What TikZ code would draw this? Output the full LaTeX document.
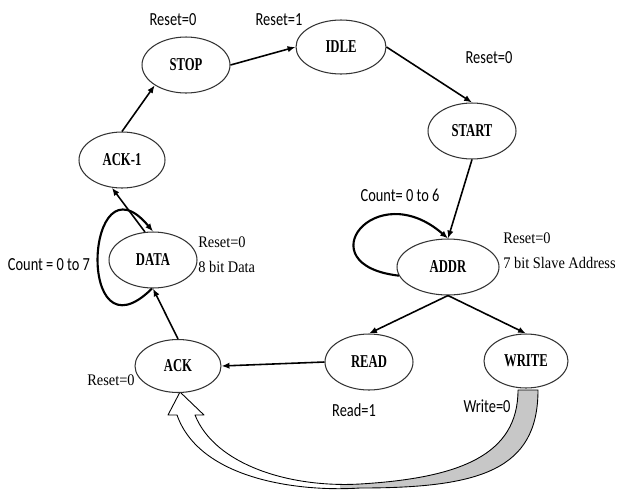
\documentclass[tikz,border=0pt]{standalone}
\usepackage{fontspec}
\usepackage{pgf,tikz}
\usetikzlibrary{shapes.geometric,arrows.meta}

\newfontfamily\statefont[FakeStretch=0.70]{Liberation Serif}
\newfontfamily\notefont[FakeStretch=0.89]{Liberation Serif}
\newfontfamily\condfont[FakeStretch=0.78]{Carlito}

\begin{document}
\begin{tikzpicture}
  [x=0.02cm,y=-0.02cm,
   state/.style={ellipse, draw=black!80, line width=0.6pt, fill=white, inner sep=0pt,
     minimum width=1.76cm, minimum height=1.12cm,
     font=\statefont\bfseries\fontsize{10.3}{12}\selectfont},
   cond/.style={inner sep=0pt, font=\condfont\fontsize{10.5}{12}\selectfont},
   note/.style={inner sep=0pt, anchor=west, font=\notefont\fontsize{9.2}{11}\selectfont},
   trans/.style={-{Latex[length=4.5pt,width=3.6pt]}, line width=0.9pt},
   bandpath/.style={insert path={(177,415) .. controls (200,480) and (300,492) .. (360,488)
     .. controls (480,488) and (538,470) .. (538,390) -- (518,390)
     .. controls (518,455) and (460,478) .. (360,484)
     .. controls (290,488) and (215,465) .. (195,415)
     -- (204,415) -- (180,392) -- (168,415) -- cycle}}]

  \useasboundingbox (0,0) rectangle (619,491);

  %%%%%%%%%%%%%%%%%%%%%% WRITE TO ACK %%%%%%%%%%%%%%%%%%%%%%

  \fill[white, bandpath];
  \begin{scope}
    \clip (340,380) rectangle (619,491);
    \fill[black!22, bandpath];
  \end{scope}
  \draw[line width=0.5pt, line join=round, bandpath];

  %%%%%%%%%%%%%%%%%%%%%% STATES %%%%%%%%%%%%%%%%%%%%%%

  \node[state] (stop) at (186,65) {STOP};
  \node[state, minimum width=1.8cm, minimum height=1.08cm] (idle) at (341,47) {IDLE};
  \node[state] (start) at (472,131) {START};
  \node[state, minimum width=1.72cm] (ack1) at (122,160) {ACK-1};
  \node[state] (data) at (153,260) {DATA};
  \node[state, minimum width=2.04cm] (addr) at (448,267) {ADDR};
  \node[state, minimum width=1.72cm, minimum height=1.06cm] (ack) at (178,366) {ACK};
  \node[state] (read) at (369,362) {READ};
  \node[state, minimum width=1.68cm, minimum height=1.08cm] (write) at (526,361) {WRITE};

  \foreach \fromstate/\tostate in {ack1.north/stop.213,stop.east/idle.west,idle.east/start.north,start.south/addr.north,addr.south/read.north,addr.south/write.north,read.west/ack.east,ack.north/data.south,data.106/ack1.250}
    \draw[trans] (\fromstate) -- (\tostate);

  \draw[trans, line width=1.2pt] (addr.190) .. controls (305,265) and (375,175) .. (addr.north);
  \draw[trans, line width=1.2pt] (data.268) .. controls (75,365) and (85,150) .. (data.north);

  %%%%%%%%%%%%%%%%%%%%%% LABELS %%%%%%%%%%%%%%%%%%%%%%

  \node[cond] (rst_stop) at (173,20) {Reset=0};
  \node[cond] (rst_idle) at (279,20) {Reset=1};
  \node[cond] (rst_start) at (489,58) {Reset=0};
  \node[cond] (cnt_addr) at (400,195) {Count= 0 to 6};
  \node[note] (rst_addr) at (503,238) {Reset=0};
  \node[note] (slave) at (503,263) {7 bit Slave Address};
  \node[note] (rst_data) at (198,242) {Reset=0};
  \node[note] (bits) at (198,267) {8 bit Data};
  \node[cond] (cnt_data) at (49,265) {Count = 0 to 7};
  \node[note, anchor=east] (rst_ack) at (135,380) {Reset=0};
  \node[cond] (rd) at (354,410) {Read=1};
  \node[cond] (wr) at (487,406) {Write=0};

\end{tikzpicture}
\end{document}
